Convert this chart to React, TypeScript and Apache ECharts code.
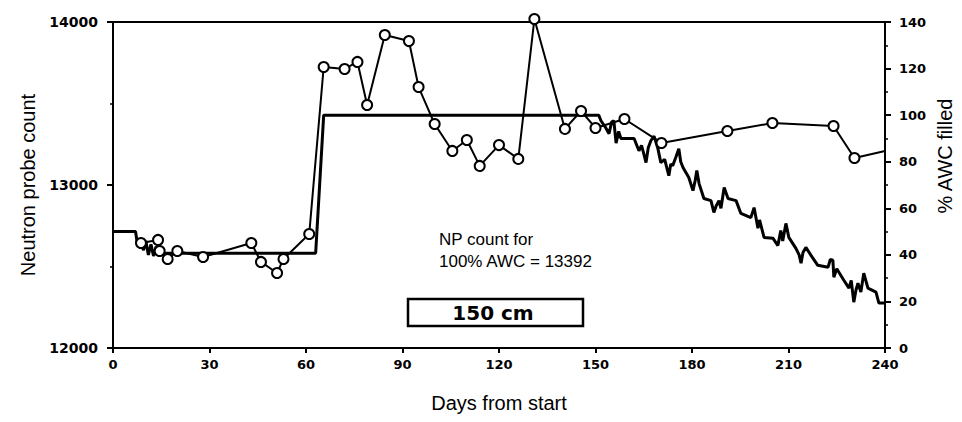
import React, { useEffect, useRef } from "react";
import * as echarts from "echarts";

// x axis ticks (days)
const dayTicks = [0, 30, 60, 90, 120, 150, 180, 210, 240];

// Neutron probe counts (circles, left axis)
const npDays = [8.7, 14, 14.5, 17, 20, 28, 43, 46, 51, 53, 61, 65.5, 72, 76, 79, 84.5, 92, 95, 100, 105.5, 110, 114, 120, 126, 131, 140.5, 145.5, 150, 159, 170.5, 191, 205, 224, 230.5, 240];
const npCounts = [12644, 12663, 12595, 12546, 12595, 12558, 12644, 12528, 12460, 12546, 12699, 13724, 13712, 13755, 13491, 13920, 13883, 13601, 13374, 13209, 13276, 13117, 13245, 13160, 14018, 13344, 13454, 13350, 13405, 13258, 13331, 13380, 13362, 13166, 13208];

// Modelled % AWC filled (thick line, right axis)
const awcDays = [0, 7, 7.5, 8.5, 9.5, 10.2, 11, 11.8, 12.6, 13.4, 14.2, 15, 16, 63, 65.5, 151, 151.7, 153, 154.2, 155, 155.7, 156.4, 157.2, 157.9, 162, 163.5, 164.3, 165, 165.7, 166.4, 167.2, 168.2, 169.4, 170.3, 171.5, 172.8, 173.4, 174, 175, 175.9, 176.5, 177.2, 179, 180.3, 181, 181.5, 182.2, 183.7, 185.9, 186.8, 187.5, 188.4, 189, 190, 191.2, 193.7, 195.2, 198.3, 199.3, 200.5, 201, 202.4, 205.2, 206.7, 207.6, 208.2, 209.2, 210.1, 212.3, 213.3, 213.9, 214.5, 215.4, 217, 219.1, 222.3, 223, 223.8, 224.1, 225, 227.2, 228.8, 229.5, 230.3, 231, 231.6, 232.5, 233.4, 234.7, 237.2, 238.1, 240];
const awcPercent = [50, 50, 45.5, 45, 42, 46, 40, 44.5, 39.5, 43.5, 40, 42.5, 40.7, 40.7, 100, 100, 97.6, 95, 92, 97, 97.6, 88, 93, 90, 90, 84.7, 87, 83.5, 79.6, 86, 89, 91, 85.6, 79.6, 81, 74, 79, 78.3, 82, 85.6, 80, 77.5, 73.2, 67.6, 72, 76.2, 70.6, 64.2, 63.3, 58.2, 61, 63.3, 60, 68.9, 64.2, 63.3, 57.8, 56, 60.3, 51.4, 55, 47.5, 47.1, 44, 50.5, 46, 53.5, 47.5, 42.8, 40, 36.4, 41, 43.2, 39.8, 35.5, 34.7, 38, 37.7, 30.4, 34, 29.1, 25.7, 29, 19.7, 25, 27.8, 24, 32.1, 25.7, 24, 19.3, 19.3];

const tickFont = { fontFamily: "DejaVu Sans", fontWeight: "bold" as const, fontSize: 13, color: "#000" };
const nameFont = { fontFamily: "Liberation Sans", fontSize: 20, color: "#000" };

export default function App() {
  const ref = useRef<HTMLDivElement>(null);
  useEffect(() => {
    if (!ref.current) return;
    const chart = echarts.init(ref.current, undefined, { renderer: "svg" });
    const npData = npDays.map((d, i) =>
      i === npDays.length - 1 ? { value: [d, npCounts[i]], symbol: "none" } : [d, npCounts[i]]
    );
    const awcData = awcDays.map((d, i) => [d, awcPercent[i]]);
    chart.setOption({
      animation: false,
      backgroundColor: "#fff",
      grid: {
        left: 113, right: 77, top: 22, bottom: 74,
        show: true, borderColor: "#000", borderWidth: 2, backgroundColor: "transparent",
      },
      xAxis: {
        type: "value", min: 0, max: 240, interval: 30,
        name: "Days from start", nameLocation: "middle", nameGap: 45,
        nameTextStyle: nameFont,
        axisLine: { lineStyle: { color: "#000", width: 2 } },
        axisTick: { length: 5, lineStyle: { color: "#000", width: 2 } },
        axisLabel: { ...tickFont, margin: 10, formatter: (v: number) => (dayTicks.includes(v) ? String(v) : "") },
        splitLine: { show: false },
      },
      yAxis: [
        {
          type: "value", min: 12000, max: 14000, interval: 1000,
          name: "Neutron probe count", nameLocation: "middle", nameGap: 72, nameRotate: 90,
          nameTextStyle: nameFont,
          axisLine: { show: true, lineStyle: { color: "#000", width: 2 } },
          axisTick: { show: true, length: 6, lineStyle: { color: "#000", width: 2 } },
          minorTick: { show: true, splitNumber: 2, length: 3, lineStyle: { color: "#000", width: 1.5 } },
          axisLabel: { ...tickFont, fontSize: 14, margin: 15, formatter: (v: number) => String(v) },
          splitLine: { show: false },
        },
        {
          type: "value", min: 0, max: 140, interval: 20, position: "right",
          axisLine: { show: true, lineStyle: { color: "#000", width: 2 } },
          axisTick: { show: true, length: 6, lineStyle: { color: "#000", width: 2 } },
          minorTick: { show: true, splitNumber: 2, length: 3, lineStyle: { color: "#000", width: 1.5 } },
          axisLabel: { ...tickFont, margin: 14, formatter: (v: number) => String(v) },
          splitLine: { show: false },
        },
      ],
      series: [
        {
          name: "% AWC filled", type: "line", yAxisIndex: 1, data: awcData,
          showSymbol: false, symbol: "none", clip: false,
          lineStyle: { color: "#000", width: 3 }, z: 2,
        },
        {
          name: "Neutron probe count", type: "line", yAxisIndex: 0, data: npData,
          symbol: "circle", symbolSize: 10, clip: false,
          lineStyle: { color: "#000", width: 2 },
          itemStyle: { color: "#fff", borderColor: "#000", borderWidth: 2 }, z: 3,
        },
      ],
      graphic: [
        {
          type: "text", x: 945, y: 156, rotation: Math.PI / 2,
          style: { text: "% AWC filled", fontFamily: "Liberation Sans", fontSize: 20, fill: "#000", align: "center", verticalAlign: "middle" },
        },
        {
          type: "text", x: 439, y: 239,
          style: { text: "NP count for", fontFamily: "Liberation Sans", fontSize: 17, fill: "#000", align: "left", verticalAlign: "middle" },
        },
        {
          type: "text", x: 439, y: 261,
          style: { text: "100% AWC = 13392", fontFamily: "Liberation Sans", fontSize: 17, fill: "#000", align: "left", verticalAlign: "middle" },
        },
        {
          type: "rect", shape: { x: 408, y: 299, width: 175, height: 27 },
          style: { fill: "#fff", stroke: "#000", lineWidth: 2.5 },
        },
        {
          type: "text", x: 493, y: 313,
          style: { text: "150 cm", fontFamily: "DejaVu Sans", fontWeight: "bold", fontSize: 20, fill: "#000", align: "center", verticalAlign: "middle" },
        },
      ],
    });
    return () => chart.dispose();
  }, []);
  return <div ref={ref} style={{ position: "fixed", left: 0, top: 0, width: 962, height: 422 }} />;
}
